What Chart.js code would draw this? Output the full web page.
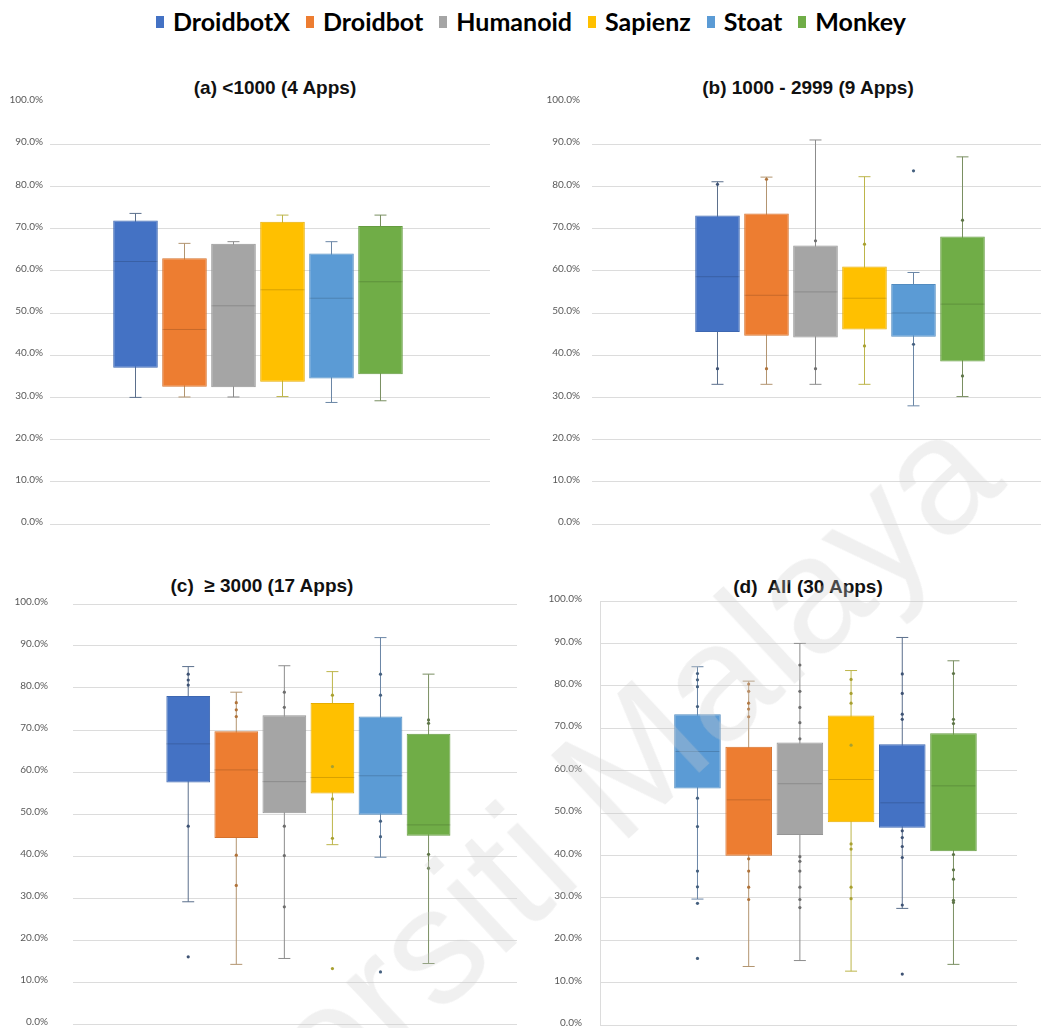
<!DOCTYPE html>
<html>
<head>
<meta charset="utf-8">
<title>Coverage by app size</title>
<script src="https://cdn.jsdelivr.net/npm/chart.js@4.4.1/dist/chart.umd.min.js"></script>
<style>
  body { margin: 0; background: #fff; }
  #page { position: relative; width: 1041px; height: 1028px; overflow: hidden; background: #fff; }
  #legend { position: absolute; left: 156px; top: 8px; display: flex; gap: 16px; font: 700 25px Lato, sans-serif; line-height: 27px; color: #000; white-space: nowrap; }
  #legend .item { display: flex; align-items: center; }
  #legend i { display: inline-block; width: 8px; height: 12px; margin-right: 9px; }
  .title { position: absolute; width: 320px; margin-left: -160px; text-align: center; font: bold 19px "Liberation Sans", Arial, sans-serif; line-height: 19px; white-space: pre; color: #111; }
  canvas { position: absolute; }
  #stamp { position: absolute; left: 510px; top: 872px; transform: translate(-50%, -50%) rotate(-43deg); font: 165px "Liberation Sans", Arial, sans-serif; line-height: 1; white-space: nowrap; color: rgba(205, 205, 205, 0.3); pointer-events: none; }
</style>
</head>
<body>
<div id="page">
  <div id="legend"></div>
</div>
<script>
const tools = ['DroidbotX', 'Droidbot', 'Humanoid', 'Sapienz', 'Stoat', 'Monkey'];
const titles = ['(a) <1000 (4 Apps)', '(b) 1000 - 2999 (9 Apps)', '(c)  \u2265 3000 (17 Apps)', '(d)  All (30 Apps)'];

// (a) <1000
const lowA  = [30.0, 30.1, 30.1, 30.2, 28.8, 29.2];
const q1A   = [37.0, 32.5, 32.4, 33.7, 34.5, 35.5];
const medA  = [62.2, 46.1, 51.7, 55.5, 53.5, 57.4];
const q3A   = [71.9, 63.0, 66.4, 71.6, 64.1, 70.6];
const highA = [73.6, 66.5, 66.9, 73.2, 66.9, 73.2];
const ptsA  = [[], [], [], [], [], []];

// (b) 1000 - 2999
const lowB  = [33.1, 33.1, 33.1, 33.1, 28.0, 30.2];
const q1B   = [45.5, 44.6, 44.2, 46.1, 44.4, 38.5];
const medB  = [58.6, 54.2, 55.0, 53.5, 50.0, 52.1];
const q3B   = [73.1, 73.6, 66.0, 61.0, 56.9, 68.1];
const highB = [81.1, 82.2, 91.0, 82.3, 59.6, 87.0];
const ptsB  = [[80.5, 36.8], [81.7, 36.8], [67.1, 36.8], [66.3, 42.2], [83.7, 42.6], [72.0, 35.1]];

// (c) >= 3000
const lowC  = [29.1, 14.2, 15.6, 42.7, 39.7, 14.4];
const q1C   = [57.5, 44.3, 50.2, 54.9, 49.8, 44.8];
const medC  = [66.7, 60.5, 57.7, 58.7, 59.1, 47.4];
const q3C   = [78.1, 69.7, 73.5, 76.4, 73.2, 69.1];
const highC = [85.1, 79.0, 85.3, 83.9, 92.0, 83.3];
const ptsC  = [
  [83.3, 81.9, 80.7, 47.1, 16.0],
  [76.5, 74.8, 73.2, 40.2, 33.0],
  [79.0, 75.4, 47.1, 40.1, 27.9],
  [78.3, 61.3, 53.6, 44.2, 13.2],
  [83.3, 78.3, 48.3, 44.6, 12.4],
  [72.4, 71.6, 40.4, 37.1]
];

// (d) all apps
const lowD  = [29.7, 13.8, 15.2, 12.7, 27.5, 14.3];
const q1D   = [55.8, 39.9, 44.8, 47.8, 46.5, 41.0];
const medD  = [64.5, 53.1, 56.9, 57.9, 52.4, 56.4];
const q3D   = [73.3, 65.6, 66.6, 73.0, 66.2, 68.8];
const highD = [84.5, 81.1, 90.0, 83.6, 91.4, 85.9];
const ptsD  = [
  [82.9, 81.4, 79.8, 75.1, 53.5, 46.8, 36.3, 32.6, 28.7, 15.7],
  [80.4, 78.7, 75.9, 74.5, 72.7, 39.2, 36.3, 32.5, 29.6],
  [84.9, 78.7, 74.9, 71.3, 67.5, 39.7, 38.6, 36.3, 32.5, 29.6, 27.7],
  [81.5, 78.2, 75.9, 66.0, 42.7, 41.5, 32.5, 29.8],
  [82.8, 78.2, 73.3, 72.1, 45.8, 44.2, 42.1, 39.5, 28.3, 12.0],
  [82.9, 72.1, 71.1, 40.2, 36.6, 34.4, 29.4, 28.9]
];

// colours per tool
const boxFill   = ['#4472C4', '#ED7D31', '#A5A5A5', '#FFC000', '#5B9BD5', '#70AD47'];
const boxEdge   = ['#3D67B1', '#D5712C', '#959595', '#E6AD00', '#528CC0', '#659C40'];
const whiskerCol = ['#5B6F8C', '#B39570', '#8C8C8C', '#BDB54A', '#6A86A6', '#7A8F62'];
const pointCol  = ['#3E5273', '#B0733A', '#6E6E6E', '#A8A030', '#45607F', '#5E7548'];

Chart.defaults.font.family = 'Lato';

const page = document.getElementById('page');

// shared legend
const legend = document.getElementById('legend');
tools.forEach((t, i) => {
  const item = document.createElement('span');
  item.className = 'item';
  item.innerHTML = '<i style="background:' + boxFill[i] + '"></i>' + t;
  legend.appendChild(item);
});

const panels = [
  { title: titles[0], low: lowA, q1: q1A, med: medA, q3: q3A, high: highA, pts: ptsA,
    colors: [0, 1, 2, 3, 4, 5], left: -10, top: 92, w: 505, h: 442, padR: 5,
    xMin: -0.745, xMax: 8.235, labelGap: 7, topLine: false, axisLine: false, titleX: 275, titleY: 78 },
  { title: titles[1], low: lowB, q1: q1B, med: medB, q3: q3B, high: highB, pts: ptsB,
    colors: [0, 1, 2, 3, 4, 5], left: 532, top: 92, w: 509, h: 442, padR: 0,
    xMin: -1.561, xMax: 7.602, labelGap: 12, topLine: false, axisLine: false, titleX: 808, titleY: 78 },
  { title: titles[2], low: lowC, q1: q1C, med: medC, q3: q3C, high: highC, pts: ptsC,
    colors: [0, 1, 2, 3, 4, 5], left: 13, top: 594, w: 509, h: 440, padR: 5,
    xMin: -1.397, xMax: 7.84, labelGap: 25, topLine: true, axisLine: false, titleX: 262, titleY: 576 },
  { title: titles[3], low: lowD, q1: q1D, med: medD, q3: q3D, high: highD, pts: ptsD,
    colors: [4, 1, 2, 3, 0, 5], left: 540, top: 591, w: 482, h: 444, padR: 5,
    xMin: -0.904, xMax: 7.241, labelGap: 18, topLine: true, axisLine: true, titleX: 808, titleY: 577 }
];

function drawPanel(p) {
  const head = document.createElement('div');
  head.className = 'title';
  head.textContent = p.title;
  head.style.left = p.titleX + 'px';
  head.style.top = p.titleY + 'px';
  page.appendChild(head);

  const canvas = document.createElement('canvas');
  canvas.width = p.w;
  canvas.height = p.h;
  canvas.style.left = p.left + 'px';
  canvas.style.top = p.top + 'px';
  page.appendChild(canvas);

  const pick = arr => p.colors.map(k => arr[k]);
  const xs = tools.map((t, i) => i + 1);

  const whiskers = xs.map((x, i) => ({ x, y: [p.low[i], p.high[i]] }));
  const boxes = xs.map((x, i) => ({ x, y: [p.q1[i], p.q3[i]] }));
  const medians = xs.map((x, i) => ({ x, y: p.med[i] }));
  const caps = xs.flatMap((x, i) => [{ x, y: p.low[i] }, { x, y: p.high[i] }]);
  const capCols = pick(whiskerCol).flatMap(c => [c, c]);
  const dots = [];
  const dotCols = [];
  p.pts.forEach((list, i) => list.forEach(v => {
    dots.push({ x: i + 1, y: v });
    dotCols.push(pointCol[p.colors[i]]);
  }));

  new Chart(canvas, {
    type: 'bar',
    data: {
      datasets: [
        { type: 'bar', data: whiskers, backgroundColor: pick(whiskerCol), barThickness: 1,
          inflateAmount: 0, grouped: false, order: 3 },
        { type: 'bar', data: boxes, backgroundColor: pick(boxFill), borderColor: pick(boxEdge),
          borderWidth: 1, borderSkipped: false, grouped: false, barPercentage: 0.91,
          categoryPercentage: 1, order: 2 },
        { type: 'scatter', data: medians, pointStyle: 'line', pointRadius: 22,
          pointBorderColor: 'rgba(0,0,0,0.16)', pointBorderWidth: 1, order: 1 },
        { type: 'scatter', data: caps, pointStyle: 'line', pointRadius: 6,
          pointBorderColor: capCols, pointBorderWidth: 1, order: 1 },
        { type: 'scatter', data: dots, pointStyle: 'circle', pointRadius: 1.6,
          pointBackgroundColor: dotCols, pointBorderWidth: 0, order: 0 }
      ]
    },
    options: {
      responsive: false,
      animation: false,
      events: [],
      layout: { autoPadding: false, padding: { top: 10, bottom: 10, left: 0, right: p.padR } },
      plugins: { legend: { display: false }, tooltip: { enabled: false }, title: { display: false } },
      scales: {
        x: { type: 'linear', min: p.xMin, max: p.xMax, offset: false, display: false },
        y: {
          min: 0, max: 100,
          // fixed axis width; the label gap should not push the plot inwards
          afterFit: scale => { scale.width = 60; scale.paddingTop = 0; scale.paddingBottom = 0; },
          ticks: { stepSize: 10, padding: p.labelGap, labelOffset: -2, color: '#595959', font: { size: 10 },
            callback: v => v.toFixed(1) + '%' },
          grid: { drawTicks: false, lineWidth: 1,
            color: c => (c.tick.value === 100 && !p.topLine) ? 'rgba(0,0,0,0)' : '#dcdcdc' },
          border: { display: p.axisLine, color: '#dcdcdc' }
        }
      }
    }
  });
}

panels.forEach(drawPanel);

// repository stamp across the page
const stamp = document.createElement('div');
stamp.id = 'stamp';
stamp.textContent = 'Universiti Malaya';
page.appendChild(stamp);
</script>
</body>
</html>
